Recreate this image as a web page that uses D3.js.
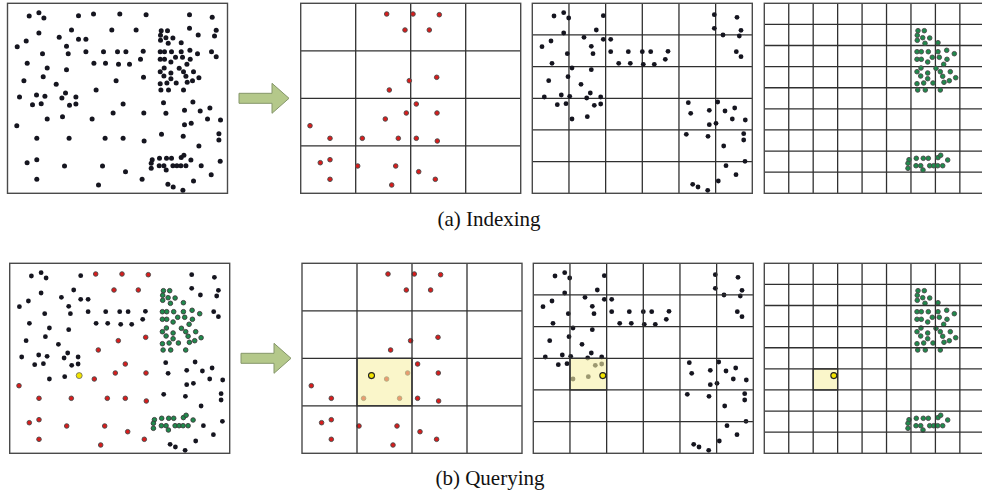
<html>
<head>
	<script type="text/javascript" src="https://cdnjs.cloudflare.com/ajax/libs/d3/7.8.5/d3.min.js" charset="utf-8"></script>
	<style>
		body { margin: 0; background: #fff; }
	</style>
</head>
<body>
<div id="svg-container"></div>
<script type="text/javascript">
	// points in a 220 x 190 space (panel units), split by grid level
	var redPts = [
		[86,10.7],[112.3,10.7],[138.6,11.4],[104.3,26.7],[128.6,26.7],
		[108.6,77.4],[136,74],[88.6,86.7],[115.6,100.7],[105.6,109.7],
		[136.3,109.7],[84.6,115.7],[9.3,122.4],[29.3,135],[61.6,135],
		[97.6,135],[115.6,135],[136.6,137.7],[19.6,159.4],[29.3,156.4],
		[29.3,176],[57,162.7],[95,162.7],[118,168.4],[134.6,176],[91,181.7]
	];
	var blackPts = [
		[21.7,12.7],[31.4,9.4],[36.4,14.7],[71,12.4],[64,26.7],[31.4,29.7],
		[182,11.4],[204.7,14],[182,25],[208.7,27],[190.7,31.7],[207,32.7],
		[204,48.4],[208.7,53.4],
		[9.7,43.4],[18.7,37.7],[35,50.4],[19.7,60],[51.7,34],[59,43],
		[60.7,50.4],[71,36],[78.4,36],[78.4,48.4],[96,48.4],[110,48.4],
		[118.4,48.4],[135.7,48],[86.4,60],[98,60],[111,61],[122,61],[133,56],
		[39.7,64.7],[59,66.4],[35.7,73.4],[16.4,77.4],[48.7,81],[12,93.7],
		[29,91.7],[37.4,93],[58,89.7],[54.4,94.7],[68.4,93.7],
		[25,101.4],[33.7,100.4],[62,102],[68.4,100.7],[39.7,115.7],[55,113.4],
		[156,99.4],[158.4,110],[185.4,98.7],[177,107],[192.7,107.7],[202.4,104.7],
		[177,121.4],[183.7,120],[200,115.7],[213,116.7],[154,131],[175.7,133],
		[211.4,130.4],[211.4,136.7],[191.4,142.7],[212.7,158],[193.7,162.4],
		[203.7,171.4],[186,177.7],[160.4,181],[165.7,183.7],[175.4,187]
	];
	var greenPts = [
		[153.7,27.4],[160,27.4],[153,32],[158.4,34.4],[165.4,34.7],[153,37],
		[160.7,40],[173.7,39.4],
		[152.7,48.4],[157,48.4],[164,48.4],[173.7,48.4],[182.4,47],[190,50.4],
		[152.7,56],[157,56],[168,54],[175,54],[182.7,56],[163.4,58.7],[179.4,61],
		[156.7,64.7],[171.7,65],[152.7,68.4],[163.4,69.7],[176,68.4],[186,68.4],
		[156.4,72.7],[178.4,73],[191.4,74.4],[163.4,75.4],[185,77.4],
		[152.7,80.4],[159.4,79.7],[168.7,79.7],[179.7,79],
		[153.4,86.7],[161,86.7],[176,86.7],
		[144.7,156.4],[152,155],[159,155],[164,155],[173.7,154.3],[176.4,152],
		[183.4,156.7],[143.7,160],[143.7,165],[151.7,162.4],[156.4,162.4],
		[158.7,166.7],[165.4,162.4],[169.4,162.4],[173.4,162.4],[178.4,162.4]
	];
	var queryPt = [69.5, 112.3];
	var gridLevels = [4, 6, 9];
	var captions = ["(a) Indexing", "(b) Querying"];

	var W = 982, H = 495, PW = 220, PH = 190;
	var topLefts = [7.5, 300.7, 532.3, 764.3];
	var botLefts = [9.7, 302, 533.3, 764.3];
	var rowTops = [3.3, 263.3];

	var colors = { black: "#15151f", red: "#d81c1c", green: "#1f8a4c" };

	var svg = d3.select("#svg-container").append("svg")
		.attr("width", W).attr("height", H)
		.attr("xmlns", "http://www.w3.org/2000/svg")
		.style("font-family", "'Liberation Serif', 'DejaVu Serif', serif");

	var x = d3.scaleLinear().domain([0, 220]).range([0, PW]);
	var y = d3.scaleLinear().domain([0, 190]).range([0, PH]);

	function drawDots(g, pts, fill, stroke, r) {
		g.selectAll(null).data(pts).enter().append("circle")
			.attr("cx", function(d) { return x(d[0]); })
			.attr("cy", function(d) { return y(d[1]); })
			.attr("r", r)
			.attr("fill", fill)
			.attr("stroke", stroke)
			.attr("stroke-width", stroke == "none" ? 0 : 0.9);
	}

	function drawGrid(g, n) {
		var gx = d3.scaleLinear().domain([0, n]).range([0, PW]);
		var gy = d3.scaleLinear().domain([0, n]).range([0, PH]);
		var idx = d3.range(1, n);
		g.selectAll(null).data(idx).enter().append("line")
			.attr("x1", function(d) { return gx(d); }).attr("x2", function(d) { return gx(d); })
			.attr("y1", 0).attr("y2", PH)
			.attr("stroke", "#303030").attr("stroke-width", 1.3);
		g.selectAll(null).data(idx).enter().append("line")
			.attr("y1", function(d) { return gy(d); }).attr("y2", function(d) { return gy(d); })
			.attr("x1", 0).attr("x2", PW)
			.attr("stroke", "#303030").attr("stroke-width", 1.3);
	}

	function frame(g) {
		g.append("rect").attr("width", PW).attr("height", PH)
			.attr("fill", "none").attr("stroke", "#4a4a4a").attr("stroke-width", 1.4);
	}

	function queryCell(g, n) {
		var cw = PW / n, ch = PH / n;
		var ci = Math.floor(x(queryPt[0]) / cw), cj = Math.floor(y(queryPt[1]) / ch);
		g.append("rect")
			.attr("x", ci * cw).attr("y", cj * ch)
			.attr("width", cw).attr("height", ch)
			.attr("fill", "#f7f0a6").attr("fill-opacity", 0.6)
			.attr("stroke", "#333").attr("stroke-width", 1.3);
	}

	function arrow(cx, cy) {
		var pts = [[0,-5],[33,-5],[33,-15],[50,0],[33,15],[33,5],[0,5]];
		svg.append("polygon")
			.attr("points", pts.map(function(p) { return (cx + p[0]) + "," + (cy + p[1]); }).join(" "))
			.attr("fill", "#b4c88a").attr("stroke", "#85966a").attr("stroke-width", 1);
	}

	var pointSets = [redPts, blackPts, greenPts];
	var setColors = [colors.red, colors.black, colors.green];

	// ---- row (a): indexing ----
	var p0 = svg.append("g").attr("transform", "translate(" + topLefts[0] + "," + rowTops[0] + ")");
	frame(p0);
	pointSets.forEach(function(s) { drawDots(p0, s, colors.black, "none", 2.5); });

	for (var k = 0; k < 3; k++) {
		var g = svg.append("g").attr("transform", "translate(" + topLefts[k + 1] + "," + rowTops[0] + ")");
		drawGrid(g, gridLevels[k]);
		frame(g);
		if (k == 1) drawDots(g, pointSets[k], colors.black, "none", 2.4);
		else drawDots(g, pointSets[k], setColors[k], "#4a4a4a", 2.3);
	}
	arrow(239, 98.3);

	// ---- row (b): querying ----
	var q0 = svg.append("g").attr("transform", "translate(" + botLefts[0] + "," + rowTops[1] + ")");
	frame(q0);
	drawDots(q0, redPts, colors.red, "#4a4a4a", 2.3);
	drawDots(q0, blackPts, colors.black, "none", 2.4);
	drawDots(q0, greenPts, colors.green, "#3a3a3a", 2.3);
	q0.append("circle").attr("cx", x(queryPt[0])).attr("cy", y(queryPt[1]))
		.attr("r", 3).attr("fill", "#f2e400").attr("stroke", "#666").attr("stroke-width", 0.8);

	for (var k = 0; k < 3; k++) {
		var g = svg.append("g").attr("transform", "translate(" + botLefts[k + 1] + "," + rowTops[1] + ")");
		if (k == 1) drawDots(g, pointSets[k], colors.black, "none", 2.4);
		else drawDots(g, pointSets[k], setColors[k], "#4a4a4a", 2.3);
		queryCell(g, gridLevels[k]);
		drawGrid(g, gridLevels[k]);
		frame(g);
		g.append("circle").attr("cx", x(queryPt[0])).attr("cy", y(queryPt[1]))
			.attr("r", 3).attr("fill", "#f2e400").attr("stroke", "#222").attr("stroke-width", 1.1);
	}
	arrow(241, 358.3);

	// captions
	svg.append("text").attr("x", 489).attr("y", 225.5).attr("text-anchor", "middle")
		.attr("font-size", 21).attr("fill", "#111").text(captions[0]);
	svg.append("text").attr("x", 490).attr("y", 484.5).attr("text-anchor", "middle")
		.attr("font-size", 21).attr("fill", "#111").text(captions[1]);
</script>
</body>
</html>
